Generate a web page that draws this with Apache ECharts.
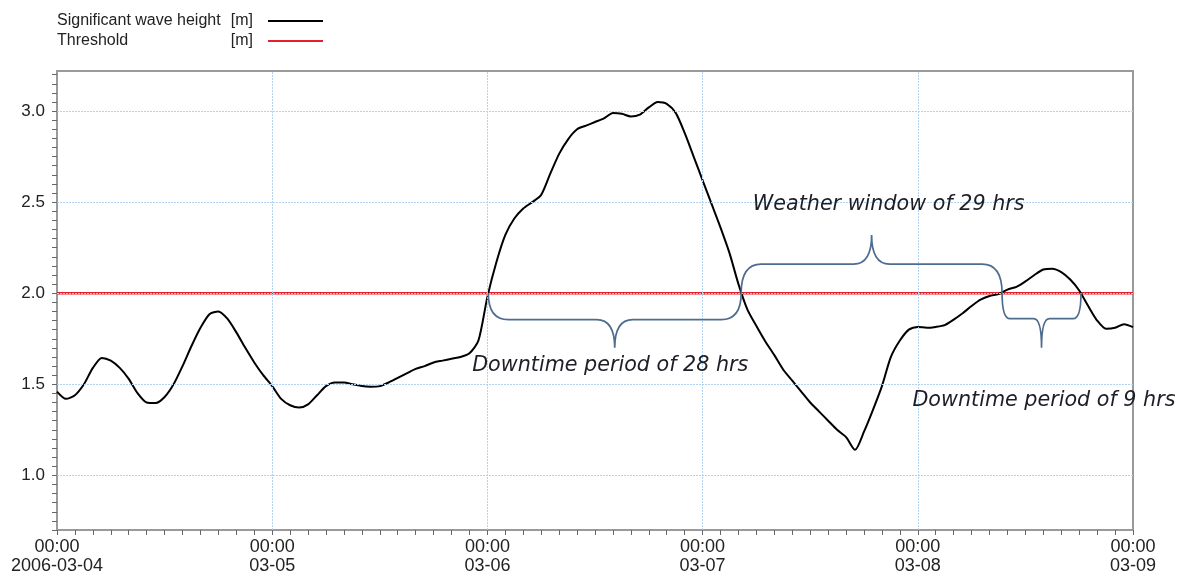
<!DOCTYPE html>
<html>
<head>
<meta charset="utf-8">
<script src="https://cdn.jsdelivr.net/npm/echarts@6/dist/echarts.min.js"></script>
<style>html,body{margin:0;padding:0;background:#fff;}#c{width:1184px;height:574px;}</style>
</head>
<body>
<div id="c"></div>
<script>
// Hourly significant wave height [m], hour 0 = 2006-03-04 00:00
const waveHeight = [
  1.46,1.42,1.44,1.50,1.59,1.645,1.63,1.59,1.53,1.45,
  1.40,1.397,1.43,1.50,1.60,1.71,1.81,1.885,1.90,1.86,
  1.785,1.70,1.62,1.55,1.49,1.42,1.385,1.372,1.39,1.44,
  1.49,1.51,1.51,1.50,1.49,1.487,1.49,1.51,1.535,1.56,
  1.585,1.60,1.62,1.63,1.64,1.65,1.67,1.74,1.98,2.17,
  2.32,2.41,2.465,2.50,2.54,2.655,2.765,2.845,2.90,2.92,
  2.94,2.96,2.99,2.985,2.97,2.98,3.02,3.05,3.04,2.99,
  2.88,2.75,2.62,2.49,2.36,2.22,2.05,1.91,1.82,1.735,
  1.66,1.58,1.52,1.46,1.40,1.35,1.30,1.25,1.21,1.14,
  1.24,1.36,1.49,1.65,1.74,1.80,1.815,1.81,1.815,1.825,
  1.855,1.89,1.93,1.965,1.985,1.995,2.02,2.035,2.065,2.10,
  2.13,2.135,2.116,2.075,2.015,1.93,1.85,1.805,1.81,1.83,
  1.814
];
const thresholdHours = [0, 120];
const thresholdValues = [2.0, 2.0];

const xTickHours = [0, 24, 48, 72, 96, 120];
const xTickLabels = ['00:00\n2006-03-04', '00:00\n03-05', '00:00\n03-06', '00:00\n03-07', '00:00\n03-08', '00:00\n03-09'];
const yTickValues = [1.0, 1.5, 2.0, 2.5, 3.0];
const yTickLabels = ['1.0', '1.5', '2.0', '2.5', '3.0'];
const xGridHours = [24, 48, 72, 96];

const seriesNames = ['Significant wave height', 'Threshold'];
const seriesUnits = ['[m]', '[m]'];

// Annotation braces (hours, values)
const braceStart = [48.1, 76.3, 105.4];
const braceEnd = [76.3, 105.4, 114.2];
const braceLevel = [1.855, 2.16, 1.86];
const braceTip = [1.70, 2.32, 1.70];
const braceText = ['Downtime period of 28 hrs', 'Weather window of 29 hrs', 'Downtime period of 9 hrs'];
const braceTextX = [46.3, 77.6, 95.4];
const braceTextY = [1.605, 2.488, 1.413];

const chart = echarts.init(document.getElementById('c'));
const axisGrey = '#9a9a9a';
const braceColor = '#4d6c8e';

function approxIndex(arr, v) {
  for (let i = 0; i < arr.length; i++) if (Math.abs(arr[i] - v) < 1e-6) return i;
  return -1;
}

const option = {
  animation: false,
  backgroundColor: '#fff',
  grid: { left: 57, right: 51, top: 71, bottom: 44, outerBoundsMode: 'none', containLabel: false,
          show: true, borderColor: axisGrey, borderWidth: 2, backgroundColor: 'transparent' },
  legend: {
    data: seriesNames,
    orient: 'vertical',
    left: 57, top: 13,
    padding: 0,
    itemGap: 4,
    align: 'right',
    icon: 'rect',
    itemWidth: 55, itemHeight: 2,
    formatter: function (name) {
      const i = seriesNames.indexOf(name);
      return '{a|' + name + '}{b|' + seriesUnits[i] + '}';
    },
    textStyle: {
      fontFamily: 'Liberation Sans', fontSize: 16, color: '#222',
      width: 206, overflow: 'none', align: 'left',
      rich: {
        a: { align: 'left', fontFamily: 'Liberation Sans', fontSize: 16, color: '#222' },
        b: { align: 'right', fontFamily: 'Liberation Sans', fontSize: 16, color: '#222', padding: [0, 10, 0, 0] }
      }
    }
  },
  xAxis: {
    type: 'value', min: 0, max: 120, interval: 2,
    axisLine: { show: true, lineStyle: { color: axisGrey, width: 2 } },
    axisTick: { show: true, length: 5, lineStyle: { color: '#666', width: 1 } },
    splitLine: { show: false },
    axisLabel: {
      margin: 8, color: '#222', fontFamily: 'Liberation Sans', fontSize: 18, lineHeight: 19,
      showMinLabel: true, showMaxLabel: true,
      formatter: function (v) {
        const i = approxIndex(xTickHours, v);
        return i >= 0 ? xTickLabels[i] : '';
      }
    }
  },
  yAxis: {
    type: 'value', min: 0.7, max: 3.22, interval: 0.05,
    axisLine: { show: true, lineStyle: { color: axisGrey, width: 2 } },
    axisTick: { show: true, length: 5, lineStyle: { color: '#666', width: 1 } },
    splitLine: { show: false },
    axisLabel: {
      margin: 12, color: '#222', fontFamily: 'Liberation Sans', fontSize: 17,
      showMaxLabel: false,
      formatter: function (v) {
        const i = approxIndex(yTickValues, v);
        return i >= 0 ? yTickLabels[i] : '';
      }
    }
  },
  series: [
    {
      name: 'gridlines', type: 'line', data: [], silent: true, z: 1,
      markLine: {
        silent: true, symbol: 'none', label: { show: false },
        lineStyle: { color: '#b2d2f2', type: [2, 1], width: 1 },
        data: yTickValues.map(v => ({ yAxis: v })).concat(xGridHours.map(v => ({ xAxis: v })))
      }
    },
    {
      name: seriesNames[1], type: 'line', z: 3,
      data: thresholdHours.map((h, i) => [h, thresholdValues[i]]),
      symbol: 'none', itemStyle: { color: '#e3202b' },
      lineStyle: { color: '#e3202b', width: 2.5 }
    },
    {
      name: seriesNames[0], type: 'line', z: 4,
      data: waveHeight.map((v, i) => [i, v]),
      symbol: 'none', smooth: 0.25, itemStyle: { color: '#000' },
      lineStyle: { color: '#000', width: 2 }
    },
    {
      name: 'braces', type: 'custom', z: 5, silent: true, clip: false,
      data: braceStart.map((s, i) => [s, braceEnd[i], braceLevel[i], braceTip[i], braceTextX[i], braceTextY[i]]),
      encode: { x: [0, 1, 4], y: [2, 3, 5] },
      renderItem: function (params, api) {
        const i = params.dataIndex;
        const x0 = api.value(0), x1 = api.value(1);
        const p0 = api.coord([x0, thresholdValues[0]]);
        const p1 = api.coord([x1, thresholdValues[0]]);
        const yh = api.coord([x0, api.value(2)])[1];
        const yt = api.coord([x0, api.value(3)])[1];
        const xm = (p0[0] + p1[0]) / 2;
        const span = p1[0] - p0[0];
        const r = Math.min(20, span / 10);
        const th = Math.min(18, span / 10);
        const d = 'M' + p0[0] + ',' + p0[1] +
          ' Q' + p0[0] + ',' + yh + ' ' + (p0[0] + r) + ',' + yh +
          ' L' + (xm - th) + ',' + yh +
          ' Q' + xm + ',' + yh + ' ' + xm + ',' + yt +
          ' Q' + xm + ',' + yh + ' ' + (xm + th) + ',' + yh +
          ' L' + (p1[0] - r) + ',' + yh +
          ' Q' + p1[0] + ',' + yh + ' ' + p1[0] + ',' + p1[1];
        const tp = api.coord([api.value(4), api.value(5)]);
        return {
          type: 'group',
          children: [
            { type: 'path', shape: { pathData: d }, style: { stroke: braceColor, fill: 'none', lineWidth: 1.7 } },
            { type: 'text', x: tp[0], y: tp[1], style: {
              text: braceText[i], fill: '#1e1e28', fontFamily: 'DejaVu Sans', fontStyle: 'italic', fontSize: 20.7,
              align: 'left', verticalAlign: 'middle' } }
          ]
        };
      }
    }
  ]
};
chart.setOption(option);
</script>
</body>
</html>
